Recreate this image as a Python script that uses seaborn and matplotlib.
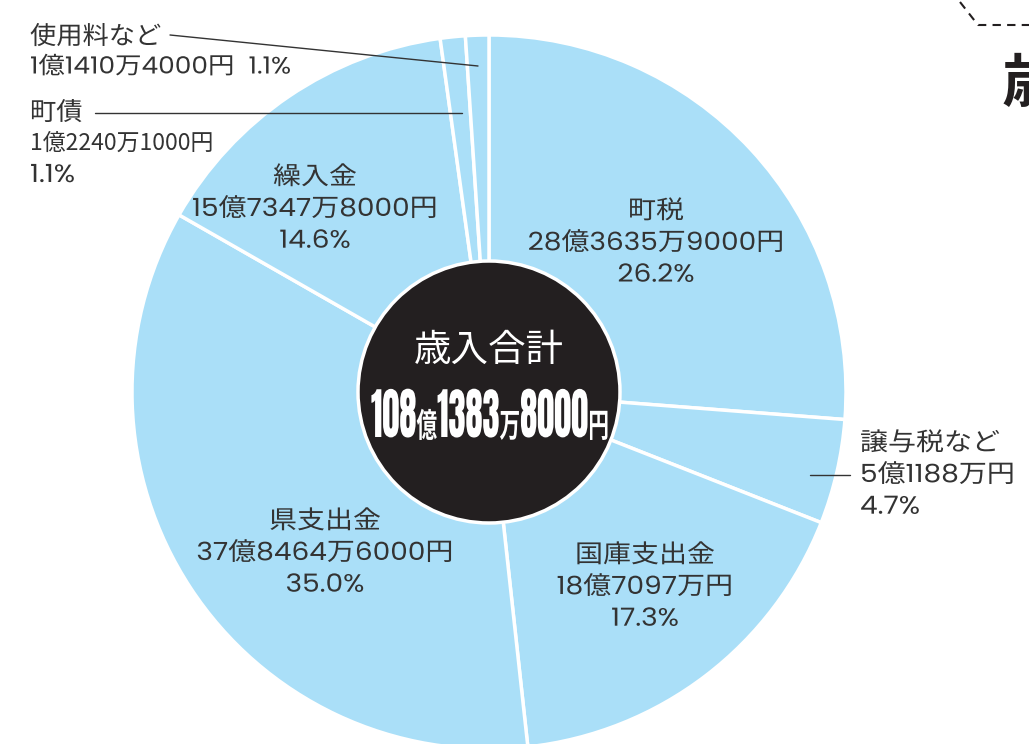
import matplotlib
matplotlib.use("Agg")
import matplotlib.pyplot as plt
import seaborn as sns
from matplotlib.patheffects import AbstractPathEffect
from matplotlib.transforms import Affine2D, Bbox
from matplotlib.text import Text

# 歳入の内訳（単位：万円）
categories = ["町税", "譲与税など", "国庫支出金", "県支出金", "繰入金", "町債", "使用料など"]
values = [283635.9, 51188.0, 187097.0, 378464.6, 157347.8, 12240.1, 11410.4]
amount_labels = ["28億3635万9000円", "5億1188万円", "18億7097万円", "37億8464万6000円",
                 "15億7347万8000円", "1億2240万1000円", "1億1410万4000円"]
percent_labels = ["26.2%", "4.7%", "17.3%", "35.0%", "14.6%", "1.1%", "1.1%"]
total_title = "歳入合計"
total_parts = [("108", True), ("億", False), ("1383", True), ("万", False), ("8000", True), ("円", False)]


class HScale(AbstractPathEffect):
    # 文字を横方向に伸縮する（長体・平体）
    def __init__(self, sx, x0):
        super().__init__()
        self.sx = sx
        self.x0 = x0

    def draw_path(self, renderer, gc, tpath, affine, rgbFace=None):
        aff = affine + Affine2D().translate(-self.x0, 0).scale(self.sx, 1).translate(self.x0, 0)
        renderer.draw_path(gc, tpath, aff, rgbFace)


class ScaledText(Text):
    sx = 1.0

    def scale_x(self, sx):
        self.sx = sx
        self.set_path_effects([HScale(sx, self.get_position()[0])])

    def get_window_extent(self, renderer=None, dpi=None):
        bb = super().get_window_extent(renderer, dpi)
        x0 = self.get_position()[0]
        return Bbox([[x0 + (bb.x0 - x0) * self.sx, bb.y0], [x0 + (bb.x1 - x0) * self.sx, bb.y1]])


def label(x, y, s, sx=1.0, **kw):
    t = ScaledText(x, y, s, **kw)
    ax.add_artist(t)
    if sx != 1.0:
        t.scale_x(sx)
    return t


sns.set_theme(style="white")
plt.rcParams["font.family"] = ["Poppins", "DejaVu Sans", "Noto Sans CJK JP"]

blue = "#aadff8"
dark = "#333333"
label_font = ["Poppins", "DejaVu Sans", "Noto Sans CJK JP"]
narrow_font = ["Anton", "Oswald", "Noto Sans CJK JP"]

fig = plt.figure(figsize=(10.29, 7.44), dpi=100)
ax = fig.add_axes([0, 0, 1, 1])

# 画像座標 (y 下向き) で考えて変換
W, H = 1029, 744
cx, cy, r = 489, H - 392, 357

ax.pie(values, colors=[blue] * len(values), startangle=90, counterclock=False,
       center=(cx, cy), radius=r,
       wedgeprops=dict(edgecolor="white", linewidth=2.5))
ax.set_xlim(0, W)
ax.set_ylim(0, H)
ax.set_aspect("equal")
ax.axis("off")

# 中央の円
ax.add_patch(plt.Circle((cx, cy), 131, facecolor="#231f20", edgecolor="white", linewidth=2.5, zorder=5))
ax.text(cx, H - 350, total_title, color="white", fontsize=27, ha="center", va="center", zorder=6,
        family=["Noto Sans CJK JP"])

# 合計金額（長体で並べる）
renderer = fig.canvas.get_renderer()
parts, widths = [], []
for txt, big in total_parts:
    if big:
        t = label(0, H - 437, txt, color="white", fontsize=40, fontweight="bold",
                  family=narrow_font, ha="left", va="baseline", zorder=6)
    else:
        t = label(0, H - 437, txt, color="white", fontsize=24, fontweight="bold",
                  family=["Noto Sans CJK JP"], ha="left", va="baseline", zorder=6)
    parts.append(t)
    widths.append(t.get_window_extent(renderer).width)
total_w = 238
sx = total_w / sum(widths)
x = cx + 1 - total_w / 2
for t, w in zip(parts, widths):
    t.set_x(x)
    t.scale_x(sx)
    x += w * sx

# 扇形内のラベル
inside = {0: (656, 244), 2: (645, 588), 3: (325, 554), 4: (315, 210)}
for i, (x, y) in inside.items():
    label(x, H - y, f"{categories[i]}\n{amount_labels[i]}\n{percent_labels[i]}", sx=1.12,
          fontsize=18, color=dark, ha="center", va="center", linespacing=1.3,
          family=label_font)

# 外側のラベル
label(860, H - 476, f"{categories[1]}\n{amount_labels[1]}\n{percent_labels[1]}", sx=1.12,
      fontsize=18, color=dark, ha="left", va="center", linespacing=1.3, family=label_font)
ax.plot([810, 850], [H - 475, H - 475], color=dark, lw=1)

label(30, H - 114, categories[5], sx=1.05, fontsize=18, color=dark, ha="left", va="center",
      family=label_font)
label(30, H - 143, amount_labels[5], fontsize=16.5, color=dark, ha="left", va="center",
      family=["Noto Sans CJK JP"])
label(30, H - 176, percent_labels[5], sx=1.12, fontsize=18, color=dark, ha="left", va="center",
      family=label_font)
ax.plot([95, 462], [H - 113, H - 113], color=dark, lw=1)

label(30, H - 38, categories[6], sx=1.05, fontsize=18, color=dark, ha="left", va="center",
      family=label_font)
label(30, H - 68, f"{amount_labels[6]}  {percent_labels[6]}", sx=1.12, fontsize=17, color=dark,
      ha="left", va="center", family=label_font)
ax.plot([170, 478], [H - 35, H - 66], color=dark, lw=1)

# 右上の見出し（一部のみ見える）
ax.plot([960, 978, W], [H - 2, H - 25, H - 25], color="#231f20", lw=1.5, ls=(0, (4, 3)))
ax.text(1002, H - 84, "歳", fontsize=44, fontweight="bold", color="#231f20", ha="left", va="center",
        family=["Noto Sans CJK JP"])

fig.savefig("out.png", dpi=100)
